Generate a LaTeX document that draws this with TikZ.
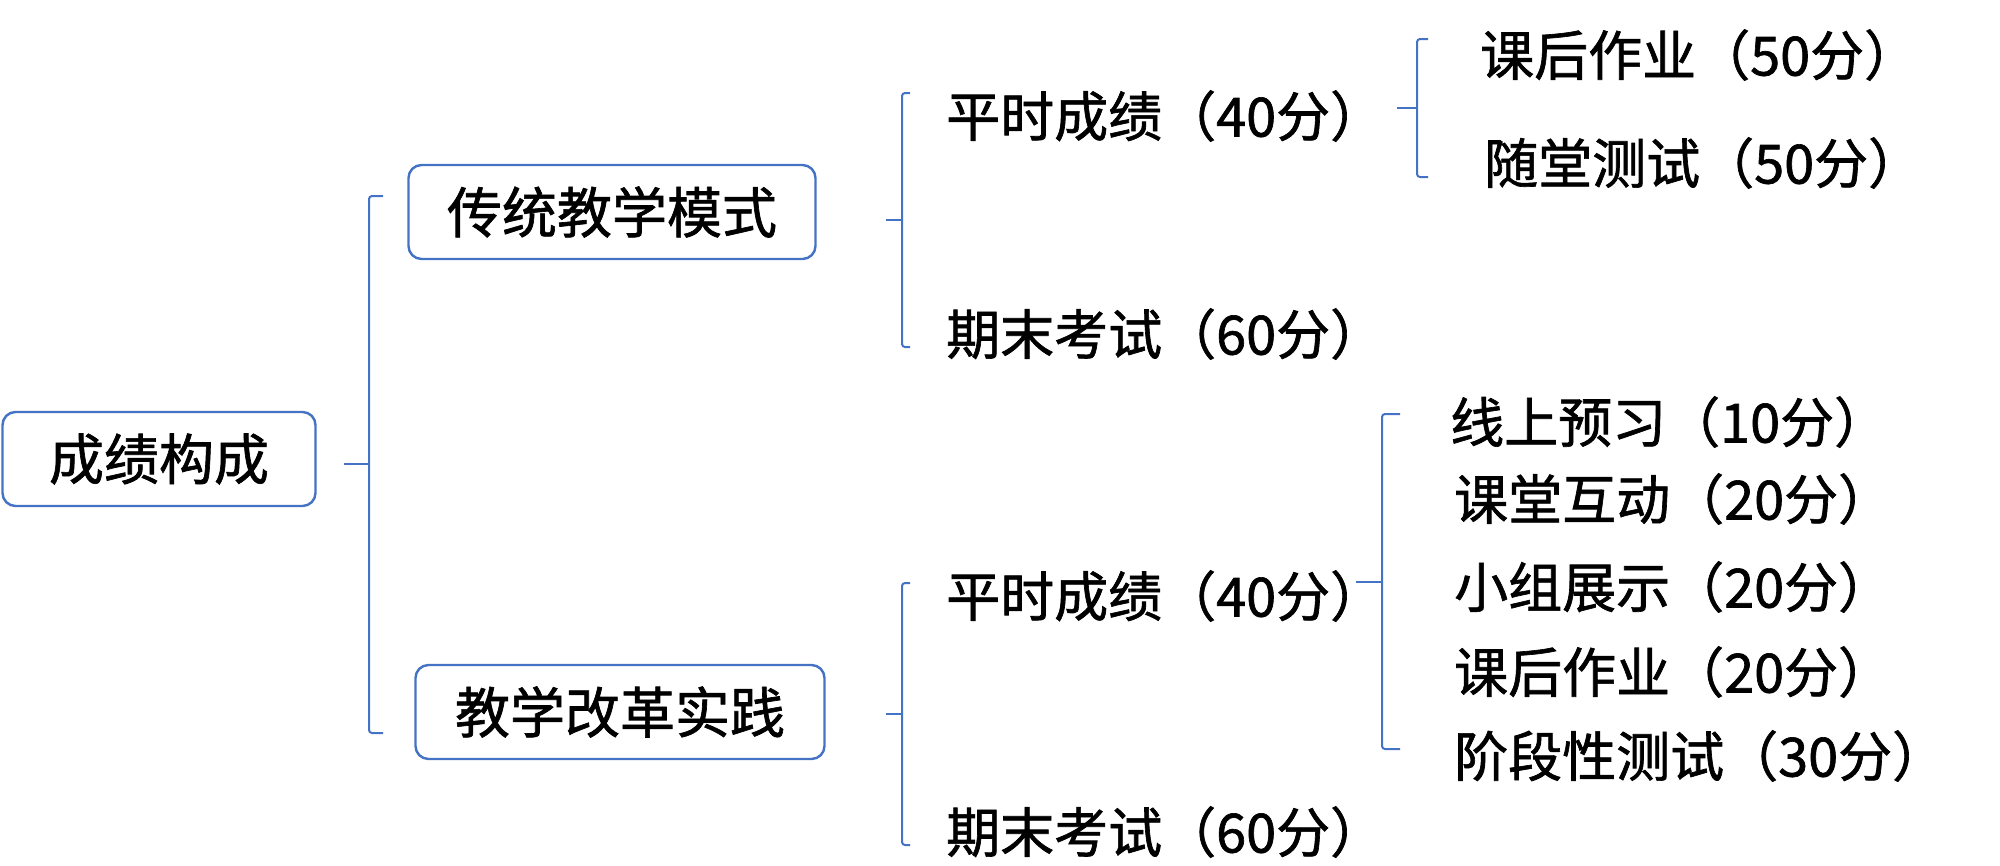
\documentclass[tikz,border=0pt]{standalone}
\usepackage{fontspec}
\setmainfont{Noto Sans CJK SC}[FakeBold=1.2]
\definecolor{lineblue}{HTML}{4472C4}
\tikzset{
  box/.style={draw=lineblue, line width=2.4pt, rounded corners=13pt, inner sep=0pt, minimum height=94pt, font=\fontsize{55}{62}\selectfont},
  lbl/.style={anchor=west, inner sep=0pt, font=\fontsize{54}{62}\selectfont},
  br/.style={draw=lineblue, line width=2pt, rounded corners=3pt},
}
\begin{document}
\begin{tikzpicture}[x=1pt,y=-1pt]
\useasboundingbox (0,0) rectangle (2000,865);
% boxes
\node[box, minimum width=313pt] (root) at (159,459) {成绩构成};
\node[box, minimum width=407pt] (A) at (612,212) {传统教学模式};
\node[box, minimum width=409pt] (B) at (620,712) {教学改革实践};
% level-2 texts
\node[lbl] (P1) at (946,116) {平时成绩（40分）};
\node[lbl] (Q1) at (946,334) {期末考试（60分）};
\node[lbl] (P2) at (946,596) {平时成绩（40分）};
\node[lbl] (Q2) at (946,832) {期末考试（60分）};
% level-3 texts
\node[lbl] (K1) at (1480,55) {课后作业（50分）};
\node[lbl] (S1) at (1484,163) {随堂测试（50分）};
\node[lbl] (X1) at (1450,422) {线上预习（10分）};
\node[lbl] (X2) at (1454,499) {课堂互动（20分）};
\node[lbl] (X3) at (1454,587) {小组展示（20分）};
\node[lbl] (X4) at (1454,672) {课后作业（20分）};
\node[lbl] (X5) at (1454,756) {阶段性测试（30分）};
% bracket coordinates
\coordinate (b1s) at (344,464); \coordinate (b1m) at (369,464);
\coordinate (b1t) at (383,196); \coordinate (b1b) at (383,733);
\coordinate (b2s) at (886,220); \coordinate (b2m) at (902,220);
\coordinate (b2t) at (910,93);  \coordinate (b2b) at (910,347);
\coordinate (b3s) at (1397,108); \coordinate (b3m) at (1417,108);
\coordinate (b3t) at (1428,39);  \coordinate (b3b) at (1428,177);
\coordinate (b4s) at (886,714); \coordinate (b4m) at (902,714);
\coordinate (b4t) at (910,583); \coordinate (b4b) at (910,845);
\coordinate (b5s) at (1356,582); \coordinate (b5m) at (1382,582);
\coordinate (b5t) at (1400,414); \coordinate (b5b) at (1400,749);
% brackets
\draw[br] (b1s) -- (b1m);
\draw[br] (b1t) -- (b1m |- b1t) -- (b1m |- b1b) -- (b1b);
\draw[br] (b2s) -- (b2m);
\draw[br] (b2t) -- (b2m |- b2t) -- (b2m |- b2b) -- (b2b);
\draw[br] (b3s) -- (b3m);
\draw[br] (b3t) -- (b3m |- b3t) -- (b3m |- b3b) -- (b3b);
\draw[br] (b4s) -- (b4m);
\draw[br] (b4t) -- (b4m |- b4t) -- (b4m |- b4b) -- (b4b);
\draw[br] (b5s) -- (b5m);
\draw[br] (b5t) -- (b5m |- b5t) -- (b5m |- b5b) -- (b5b);
\end{tikzpicture}
\end{document}
